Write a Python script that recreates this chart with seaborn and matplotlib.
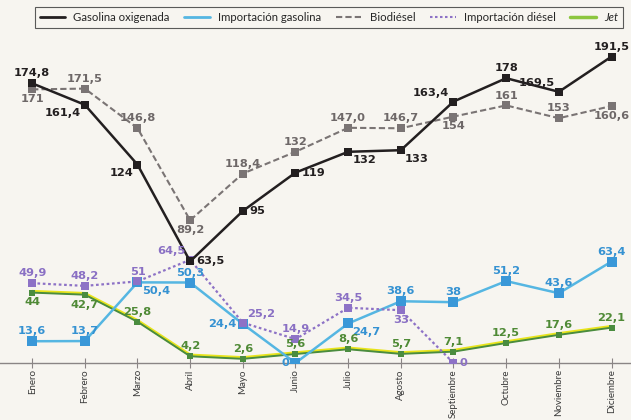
import numpy as np
import pandas as pd
import matplotlib
matplotlib.use("Agg")
import matplotlib.pyplot as plt
import matplotlib.transforms as mtransforms
from matplotlib.lines import Line2D
import seaborn as sns

# ---------------- data ----------------
meses = ["Enero", "Febrero", "Marzo", "Abril", "Mayo", "Junio", "Julio",
         "Agosto", "Septiembre", "Octubre", "Noviembre", "Diciembre"]
gasolina_oxigenada = [174.8, 161.4, 124, 63.5, 95, 119, 132, 133, 163.4, 178, 169.5, 191.5]
importacion_gasolina = [13.6, 13.7, 50.4, 50.3, 24.4, 0, 24.7, 38.6, 38, 51.2, 43.6, 63.4]
biodiesel = [171, 171.5, 146.8, 89.2, 118.4, 132, 147.0, 146.7, 154, 161, 153, 160.6]
importacion_diesel = [49.9, 48.2, 51, 64.5, 25.2, 14.9, 34.5, 33, 0, np.nan, np.nan, np.nan]
jet = [44, 42.7, 25.8, 4.2, 2.6, 5.6, 8.6, 5.7, 7.1, 12.5, 17.6, 22.1]
label_overrides = {("Biodiésel", 6): "147,0"}

# ---------------- label placement (layout) ----------------
pos_gas = ["a", "bl", "bl", "r", "r", "r", "br", "br", "al", "a", "al", "a"]
pos_imp_gas = ["a", "a", "br", "a", "l", "l", "br", "a", "a", "a", "a", "a"]
pos_bio = ["b", "a", "a", "b", "a", "a", "a", "a", "b", "a", "a", "b"]
pos_imp_die = ["a", "a", "a", "al", "ar", "a", "a", "b", "r", None, None, None]
pos_jet = ["b", "b", "a", "a", "a", "a", "a", "a", "a", "a", "a", "a"]

OFF = {
    "a": ((0, 3.5), "center", "bottom"),
    "b": ((0, -3.5), "center", "top"),
    "l": ((-4.5, 0), "right", "center"),
    "r": ((4.5, 0), "left", "center"),
    "al": ((-3, 2.5), "right", "bottom"),
    "ar": ((3, 2.5), "left", "bottom"),
    "bl": ((-3, -2.5), "right", "top"),
    "br": ((3, -2.5), "left", "top"),
}

BG = "#f7f5f0"
sns.set_theme(style="white")
plt.rcParams["font.family"] = ["Lato", "DejaVu Sans"]

fig = plt.figure(figsize=(6.31, 4.20), dpi=100, facecolor=BG)
ax = fig.add_axes([0.0, 1 - 363 / 420, 1.0, (363 - 35) / 420])
ax.set_facecolor(BG)

x = np.arange(len(meses))
df = pd.DataFrame({
    "x": x,
    "Gasolina oxigenada": gasolina_oxigenada,
    "Importación gasolina": importacion_gasolina,
    "Biodiésel": biodiesel,
    "Importación diésel": importacion_diesel,
    "Jet": jet,
})

# Jet: yellow + green double line
yellow_tr = mtransforms.offset_copy(ax.transData, fig=fig, x=0, y=1.2, units="dots")
ax.plot(df["x"], df["Jet"], color="#e8e41c", lw=2.2, transform=yellow_tr, zorder=2)
sns.lineplot(data=df, x="x", y="Jet", ax=ax, color="#4a8c3f", lw=1.4,
             marker="s", markersize=5, markeredgewidth=0, zorder=3)

sns.lineplot(data=df, x="x", y="Importación gasolina", ax=ax, color="#55b6e2", lw=1.8,
             marker="s", markersize=6.5, markerfacecolor="#3a98d8", markeredgewidth=0, zorder=3)
sns.lineplot(data=df, x="x", y="Importación diésel", ax=ax, color="#8d72c6", lw=1.6,
             linestyle=(0, (1.2, 1.2)), marker="s", markersize=5.5, markeredgewidth=0, zorder=3)
sns.lineplot(data=df, x="x", y="Biodiésel", ax=ax, color="#7a7474", lw=1.5,
             linestyle=(0, (3, 1.5)), marker="s", markersize=5.5, markeredgewidth=0, zorder=3)
sns.lineplot(data=df, x="x", y="Gasolina oxigenada", ax=ax, color="#231f20", lw=1.8,
             marker="s", markersize=6, markeredgewidth=0, zorder=4)

def fmt(v):
    s = f"{v:.1f}"
    if s.endswith(".0"):
        s = s[:-2]
    return s.replace(".", ",")

series = [
    ("Gasolina oxigenada", gasolina_oxigenada, pos_gas, "#231f20"),
    ("Biodiésel", biodiesel, pos_bio, "#6e6868"),
    ("Importación gasolina", importacion_gasolina, pos_imp_gas, "#3592d2"),
    ("Importación diésel", importacion_diesel, pos_imp_die, "#8a70c4"),
    ("Jet", jet, pos_jet, "#4f8a36"),
]
for name, vals, poss, col in series:
    for i, (v, p) in enumerate(zip(vals, poss)):
        if p is None or (isinstance(v, float) and np.isnan(v)):
            continue
        txt = label_overrides.get((name, i), fmt(v))
        off, ha, va = OFF[p]
        ax.annotate(txt, (x[i], v), xytext=off, textcoords="offset points",
                    ha=ha, va=va, fontsize=8.2, fontweight="bold", color=col,
                    family=["DejaVu Sans"], zorder=6)

ax.set_xlim(-0.61, 11.37)
ax.set_ylim(0, (363 - 35) / 1.6)
ax.set_xticks(x)
ax.set_xticklabels(meses, rotation=90, fontsize=7.0, color="#3a3a3a", va="top")
ax.set_yticks([])
ax.set_xlabel("")
ax.set_ylabel("")
for s in ["top", "right", "left"]:
    ax.spines[s].set_visible(False)
ax.spines["bottom"].set_color("#8a8585")
ax.spines["bottom"].set_linewidth(1.0)
ax.tick_params(axis="x", direction="inout", length=7, width=0.8, color="#8a8585", pad=1, bottom=True)
if ax.get_legend() is not None:
    ax.get_legend().remove()

handles = [
    Line2D([], [], color="#231f20", lw=2),
    Line2D([], [], color="#55b6e2", lw=2),
    Line2D([], [], color="#7a7474", lw=1.5, linestyle=(0, (3, 1.5))),
    Line2D([], [], color="#8d72c6", lw=1.5, linestyle=(0, (1.2, 1.2))),
    Line2D([], [], color="#8cc63f", lw=2.5),
]
labels = ["Gasolina oxigenada", "Importación gasolina", "Biodiésel", "Importación diésel", "Jet"]
leg = fig.legend(handles, labels, loc="center", bbox_to_anchor=(0.521, 1 - 17.5 / 420),
                 ncol=5, frameon=True, fontsize=8.2, handlelength=2.25, columnspacing=1.3,
                 handletextpad=0.7, borderpad=0.45, fancybox=False)
leg.get_frame().set_edgecolor("#333333")
leg.get_frame().set_linewidth(0.8)
leg.get_frame().set_facecolor(BG)
leg.get_texts()[4].set_style("italic")

fig.savefig("out.png", dpi=100, facecolor=BG)
